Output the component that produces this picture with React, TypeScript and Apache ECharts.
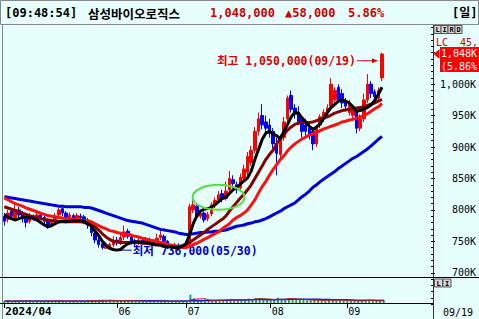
import React, { useEffect, useRef } from "react";
import * as echarts from "echarts";

// ---- trading days shown (2024) ----
const APR_DAYS = [16, 17, 18, 19, 22, 23, 24, 25, 26, 29, 30];
const MAY_DAYS = [2, 3, 7, 8, 9, 10, 13, 14, 16, 17, 20, 21, 22, 23, 24, 27, 28, 29, 30, 31];
const JUN_DAYS = [3, 4, 5, 7, 10, 11, 12, 13, 14, 17, 18, 19, 20, 21, 24, 25, 26, 27, 28];
const JUL_DAYS = [1, 2, 3, 4, 5, 8, 9, 10, 11, 12, 15, 16, 17, 18, 19, 22, 23, 24, 25, 26, 29, 30, 31];
const AUG_DAYS = [1, 2, 5, 6, 7, 8, 9, 12, 13, 14, 16, 19, 20, 21, 22, 23, 26, 27, 28, 29, 30];
const SEP_DAYS = [2, 3, 4, 5, 6, 9, 10, 11, 12, 13, 19];

// date-axis tick labels (first trading day of the month -> label)
const TICK_LABELS: Record<string, string> = {
  "04/16": "2024/04",
  "06/03": "06",
  "07/01": "07",
  "08/01": "08",
  "09/02": "09",
};

// ---- prices, in thousand won ----
const OPEN = [790,785,798,788,800,794,786,782,790,786,792,788,783,776,782,792,802,795,788,791,787,790,789,784,775,763,752,746,739,741,745,752,747,757,766,757,751,747,752,749,753,750,748,756,758,750,743,740,744,740,742,746,800,806,790,795,786,794,808,816,826,818,832,848,840,835,850,860,875,895,925,950,940,935,925,905,888,915,945,982,962,955,945,935,930,925,905,935,945,955,965,975,995,985,972,955,950,955,930,945,975,1000,988,978,1010];
const CLOSE = [782,795,790,800,792,786,780,790,787,792,788,782,775,780,790,800,795,788,792,786,791,788,783,776,764,752,745,740,743,745,752,748,756,765,758,750,746,752,748,753,750,747,755,760,750,742,740,744,740,742,746,805,808,790,795,784,793,808,815,824,818,830,850,842,832,852,865,885,895,925,945,935,930,922,905,890,915,940,978,960,952,940,925,925,920,905,930,948,955,962,1000,990,975,970,965,968,960,930,945,975,1000,985,980,990,1048];
const LOW = [775,780,785,785,788,780,772,778,783,782,784,776,770,772,778,788,790,784,785,782,783,784,779,770,758,747,740,737,738,736,741,743,744,752,754,745,742,744,745,745,746,743,745,752,746,738,738,739,738,739,740,744,795,785,786,780,782,790,803,812,812,815,828,835,826,830,845,855,870,890,918,928,922,915,898,855,880,910,940,955,945,935,915,918,912,895,900,930,940,948,960,968,970,962,958,950,945,922,925,940,970,978,975,972,1005];
const HIGH = [795,800,803,808,805,798,790,795,793,797,796,791,786,784,795,806,808,798,796,794,795,794,792,787,777,765,756,750,748,748,758,757,762,775,770,760,754,756,755,757,756,753,762,770,761,752,746,748,747,746,750,810,815,810,800,798,797,812,820,830,832,845,862,855,845,858,872,892,902,932,955,968,950,945,930,915,920,948,982,990,968,965,950,945,940,930,935,952,960,968,1010,995,1000,992,978,975,965,960,952,985,1016,1005,992,995,1050];

// moving averages (thousand won)
const MA5 = [792,789,786,784,786,788,789,788,786,784,780,776,773,775,778,781,782,781,782,783,783,783,782,778,774,766,759,750,744,739,737,736,737,742,746,748,749,749,749,748,747,745,745,744,742,741,741,740,740,742,746,760,778,790,798,801,802,804,808,813,818,820,826,832,836,841,846,851,862,880,896,912,922,925,921,918,913,925,936,948,955,954,946,940,933,928,932,937,946,955,963,968,973,975,973,970,964,957,958,960,963,967,974,984,995];
const MA10 = [805,803,801,799,797,795,793,791,789,788,786,785,784,783,782,781,781,781,781,781,781,781,780,778,776,773,768,762,757,753,750,749,748,748,748,748,748,748,747,747,746,745,744,744,743,742,742,741,741,743,745,748,752,756,760,764,769,773,777,781,785,790,798,805,812,819,825,832,840,850,860,870,880,888,895,905,913,920,927,932,936,938,939,939,939,940,942,944,946,948,951,954,956,958,959,960,961,962,963,964,966,968,970,973,976];
const MA20 = [819,816,813,810,808,806,803,801,799,797,795,793,791,790,789,788,787,786,786,785,785,784,783,782,781,778,775,772,770,767,766,764,763,762,761,760,758,757,755,754,752,751,750,748,747,745,744,743,741,740,740,742,745,747,750,753,756,759,762,765,770,774,778,784,788,791,795,800,808,816,827,837,845,855,864,872,880,886,894,900,905,909,913,916,919,921,923,926,929,931,933,935,937,940,941,943,944,946,948,950,953,957,961,964,969];
const MA60 = [821,820,819,818,817,816,815,814,813,812,811,810,809,808,807,806,806,805,805,805,805,805,804,804,803,801,799,797,795,793,791,789,787,785,783,782,781,780,779,777,775,773,771,769,768,767,766,765,763,762,761,761,762,763,764,764,765,765,766,766,767,768,770,772,774,775,776,778,779,781,782,784,786,789,792,795,798,802,805,808,811,816,821,825,830,836,840,845,849,853,857,861,866,870,874,878,882,885,889,893,897,902,907,912,917];

// volume, thousand shares
const VOLUME = [22,25,20,28,24,20,26,22,19,23,21,24,27,22,26,30,25,21,20,23,22,21,25,30,34,36,32,28,30,38,27,24,28,33,26,22,20,19,22,21,18,20,24,28,22,20,19,21,20,22,24,100,55,40,32,30,28,34,38,36,30,42,50,36,30,38,40,52,48,60,55,45,38,35,40,62,48,45,58,50,38,36,40,32,30,35,34,28,30,44,36,32,30,28,26,25,24,30,28,32,40,34,28,26,38];

const PRICE_MIN = 650;
const PRICE_MAX = 1100;
const PRICE_STEP = 50;
const VOL_MAX = 300;
const EMPTY_SLOTS = 13;

const BG = "#e6fffd";
const MONO = '"DejaVu Sans Mono", "Noto Sans CJK KR", monospace';

const pad2 = (n: number) => String(n).padStart(2, "0");
const MONTHS: [number, number[]][] = [
  [4, APR_DAYS], [5, MAY_DAYS], [6, JUN_DAYS], [7, JUL_DAYS], [8, AUG_DAYS], [9, SEP_DAYS],
];
const DATES = MONTHS.flatMap(([m, days]) => days.map((d) => `${pad2(m)}/${pad2(d)}`));
const CATEGORIES = [...DATES, ...Array.from({ length: EMPTY_SLOTS }, (_, k) => " ".repeat(k + 1))];

const movingAvg = (arr: number[], n: number) =>
  arr.map((_, i) => {
    const s = arr.slice(Math.max(0, i - n + 1), i + 1);
    return s.reduce((a, b) => a + b, 0) / s.length;
  });

const fmtWon = (k: number) => (k * 1000).toLocaleString("en-US");

export default function App() {
  const ref = useRef<HTMLDivElement>(null);
  useEffect(() => {
    if (!ref.current) return;
    const chart = echarts.init(ref.current, undefined, { renderer: "svg" });
    const showTick = (idx: number) => TICK_LABELS[CATEGORIES[idx]] !== undefined;
    const lastClose = CLOSE[CLOSE.length - 1];

    chart.setOption({
      animation: false,
      backgroundColor: BG,
      grid: [
        { left: 2.5, top: 21.3, width: 430.5, height: 282.9 },
        { left: 2.5, top: 278, width: 430.5, height: 25 },
      ],
      xAxis: [
        {
          type: "category", gridIndex: 0, data: CATEGORIES, boundaryGap: true,
          axisLine: { show: false }, axisTick: { show: false }, axisLabel: { show: false },
          splitLine: { show: false },
        },
        {
          type: "category", gridIndex: 1, data: CATEGORIES, boundaryGap: true,
          axisLine: { show: false },
          axisTick: {
            show: true, alignWithLabel: true, length: 5,
            interval: (idx: number) => showTick(idx),
            lineStyle: { color: "#000", width: 1 },
          },
          axisLabel: {
            show: true,
            interval: (idx: number) => showTick(idx),
            formatter: (v: string, idx: number) => {
              const t = TICK_LABELS[v] || "";
              return idx === 0 ? `{b|${t}}` : `{n|${t}}`;
            },
            align: "left",
            margin: 3,
            padding: [0, 0, 0, 1],
            rich: {
              b: { fontFamily: MONO, fontSize: 11, fontWeight: "bold", color: "#000" },
              n: { fontFamily: MONO, fontSize: 10, color: "#000" },
            },
          },
          splitLine: { show: false },
        },
      ],
      yAxis: [
        {
          type: "value", gridIndex: 0, position: "right",
          min: PRICE_MIN, max: PRICE_MAX, interval: PRICE_STEP,
          axisLine: { show: false },
          axisTick: { show: true, length: 4, lineStyle: { color: "#000" } },
          minorTick: { show: true, splitNumber: 5, length: 2, lineStyle: { color: "#000" } },
          splitLine: { show: false },
          axisLabel: {
            show: true, showMinLabel: false, showMaxLabel: false,
            align: "right", margin: 45,
            fontFamily: MONO, fontSize: 10, color: "#000",
            // the tick label under the current-price box is hidden by it
            formatter: (v: number) => (Math.abs(v - lastClose) < 20 ? "" : v.toLocaleString("en-US") + "K"),
          },
        },
        { type: "value", gridIndex: 1, min: 0, max: VOL_MAX, show: false },
      ],
      series: [
        {
          type: "candlestick", xAxisIndex: 0, yAxisIndex: 0, z: 2,
          barWidth: 3,
          data: OPEN.map((o, i) => [o, CLOSE[i], LOW[i], HIGH[i]]),
          itemStyle: {
            color: "#ff0000", color0: "#0000ff",
            borderColor: "#ff0000", borderColor0: "#0000ff", borderWidth: 1,
          },
        },
        { type: "line", xAxisIndex: 0, yAxisIndex: 0, z: 3, data: MA60, symbol: "none", lineStyle: { color: "#0000dd", width: 3 } },
        { type: "line", xAxisIndex: 0, yAxisIndex: 0, z: 3, data: MA20, symbol: "none", lineStyle: { color: "#ff1010", width: 3 } },
        { type: "line", xAxisIndex: 0, yAxisIndex: 0, z: 3, data: MA10, symbol: "none", lineStyle: { color: "#880000", width: 3 } },
        { type: "line", xAxisIndex: 0, yAxisIndex: 0, z: 3, data: MA5, symbol: "none", lineStyle: { color: "#000000", width: 3 } },
        {
          type: "bar", xAxisIndex: 1, yAxisIndex: 1, data: VOLUME, barWidth: 2,
          itemStyle: { color: "#2f9b5b" },
        },
        { type: "line", xAxisIndex: 1, yAxisIndex: 1, data: movingAvg(VOLUME, 20), symbol: "none", lineStyle: { color: "#1a1acc", width: 1.5 } },
        { type: "line", xAxisIndex: 1, yAxisIndex: 1, data: movingAvg(VOLUME, 5), symbol: "none", lineStyle: { color: "#aa2222", width: 1 } },
      ],
    });

    const px = (i: number, v: number) => chart.convertToPixel({ gridIndex: 0 }, [i, v]) as number[];
    const last = CLOSE.length - 1;
    const hiIdx = HIGH.indexOf(Math.max(...HIGH));
    const loIdx = LOW.indexOf(Math.min(...LOW));
    const pH = px(hiIdx, HIGH[hiIdx]);
    const pL = px(loIdx, LOW[loIdx]);
    const pC = px(last, CLOSE[last]);
    const pE = px(59.4, 820);
    const chg = CLOSE[last] - CLOSE[last - 1];
    const pct = ((chg / CLOSE[last - 1]) * 100).toFixed(2);

    const txt = (text: string, x: number, y: number, font: string, fill: string, align = "left", z = 10) => ({
      type: "text", z, x, y,
      style: { text, font, fill, align, textAlign: align, verticalAlign: "middle", textVerticalAlign: "middle" },
    });
    const ln = (x1: number, y1: number, x2: number, y2: number, stroke: string, z = 10, lineWidth = 1) => ({
      type: "line", z, shape: { x1, y1, x2, y2 }, style: { stroke, lineWidth },
    });
    const btn = (label: string, x: number, y: number, w: number, h: number) => ({
      type: "group", z: 12, x, y,
      children: [
        { type: "rect", z: 12, shape: { x: 0, y: 0, width: w, height: h }, style: { fill: "#d8d8d8", stroke: "#555", lineWidth: 1 } },
        { type: "text", z: 13, x: w / 2, y: h / 2 + 0.5, style: { text: label, font: "bold 7px " + MONO, fill: "#000", align: "center", textAlign: "center", verticalAlign: "middle", textVerticalAlign: "middle" } },
      ],
    });

    const hiText = `최고 ${fmtWon(HIGH[hiIdx])}(${DATES[hiIdx]})`;
    const loText = `최저 ${fmtWon(LOW[loIdx])}(${DATES[loIdx]})`;
    const arrowY = pH[1] + 8;
    const tip = pH[0] - 4;

    chart.setOption({
      graphic: {
        elements: [
          // low annotation (under the series)
          ln(pL[0] + 2, pL[1], pL[0] + 22, pL[1], "#0000cc", 1, 1),
          txt(loText, pL[0] + 23, pL[1] + 1, "bold 11.5px " + MONO, "#0000cc", "left", 1),
          // high annotation
          txt(hiText, pH[0] - 26, arrowY, "bold 11.5px " + MONO, "#dd0000", "right"),
          ln(pH[0] - 25, arrowY, tip - 3, arrowY, "#dd0000"),
          { type: "polygon", z: 10, shape: { points: [[tip, arrowY], [tip - 6, arrowY - 2.5], [tip - 6, arrowY + 2.5]] }, style: { fill: "#dd0000" } },
          // green ellipse
          { type: "ellipse", z: 10, shape: { cx: pE[0], cy: pE[1], rx: 26, ry: 12.5 }, style: { fill: "none", stroke: "#55dd44", lineWidth: 2 } },
          // cover below price axis on the right
          { type: "rect", z: 9, shape: { x: 434, y: 278, width: 45, height: 41 }, style: { fill: BG } },
          // header
          { type: "rect", z: 11, shape: { x: 0.5, y: 0.5, width: 478, height: 24 }, style: { fill: BG, stroke: "#888", lineWidth: 1 } },
          txt("[09:48:54]", 5, 13, "bold 12px " + MONO, "#000", "left", 12),
          txt("삼성바이오로직스", 88, 13, 'bold 12.5px "Noto Sans CJK KR"', "#000", "left", 12),
          txt(fmtWon(CLOSE[last]), 210, 13, "bold 12px " + MONO, "#cc0000", "left", 12),
          txt(`▲${fmtWon(chg)}`, 285, 13, "bold 12px " + MONO, "#cc0000", "left", 12),
          txt(`${pct}%`, 348, 13, "bold 12px " + MONO, "#cc0000", "left", 12),
          txt("[일]", 452, 13, "bold 12px " + MONO, "#000", "left", 12),
          // frame lines
          ln(2.5, 25, 2.5, 319, "#888"),
          ln(433.5, 25, 433.5, 319, "#333"),
          ln(0, 277.5, 479, 277.5, "#000"),
          ln(0, 303.5, 433, 303.5, "#000"),
          // right-side price info
          txt("LC  45,", 436, 42, "10px " + MONO, "#cc0000"),
          { type: "rect", z: 10, shape: { x: 440, y: pC[1] - 7, width: 39, height: 25 }, style: { fill: "#ff0000" } },
          { type: "polygon", z: 10, shape: { points: [[433.5, pC[1]], [439.5, pC[1] - 5], [439.5, pC[1] + 5]] }, style: { fill: "#ff0000" } },
          txt(`${(CLOSE[last] / 1000).toFixed(3).replace(".", ",")}K`, 441, pC[1], "10px " + MONO, "#ffffff", "left", 11),
          txt(`(${pct}%`, 441, pC[1] + 13, "10px " + MONO, "#ffffff", "left", 11),
          txt(DATES[last], 443, 312, "10px " + MONO, "#000"),
          // small buttons
          btn("L", 434, 25.5, 7, 8), btn("I", 441, 25.5, 7, 8), btn("R", 448, 25.5, 7, 8), btn("D", 455, 25.5, 7, 8),
          btn("L", 434.5, 279, 8, 8), btn("I", 443, 279, 8, 8),
        ],
      },
    });

    return () => chart.dispose();
  }, []);
  return <div ref={ref} style={{ position: "absolute", left: 0, top: 0, width: 479, height: 319 }} />;
}
